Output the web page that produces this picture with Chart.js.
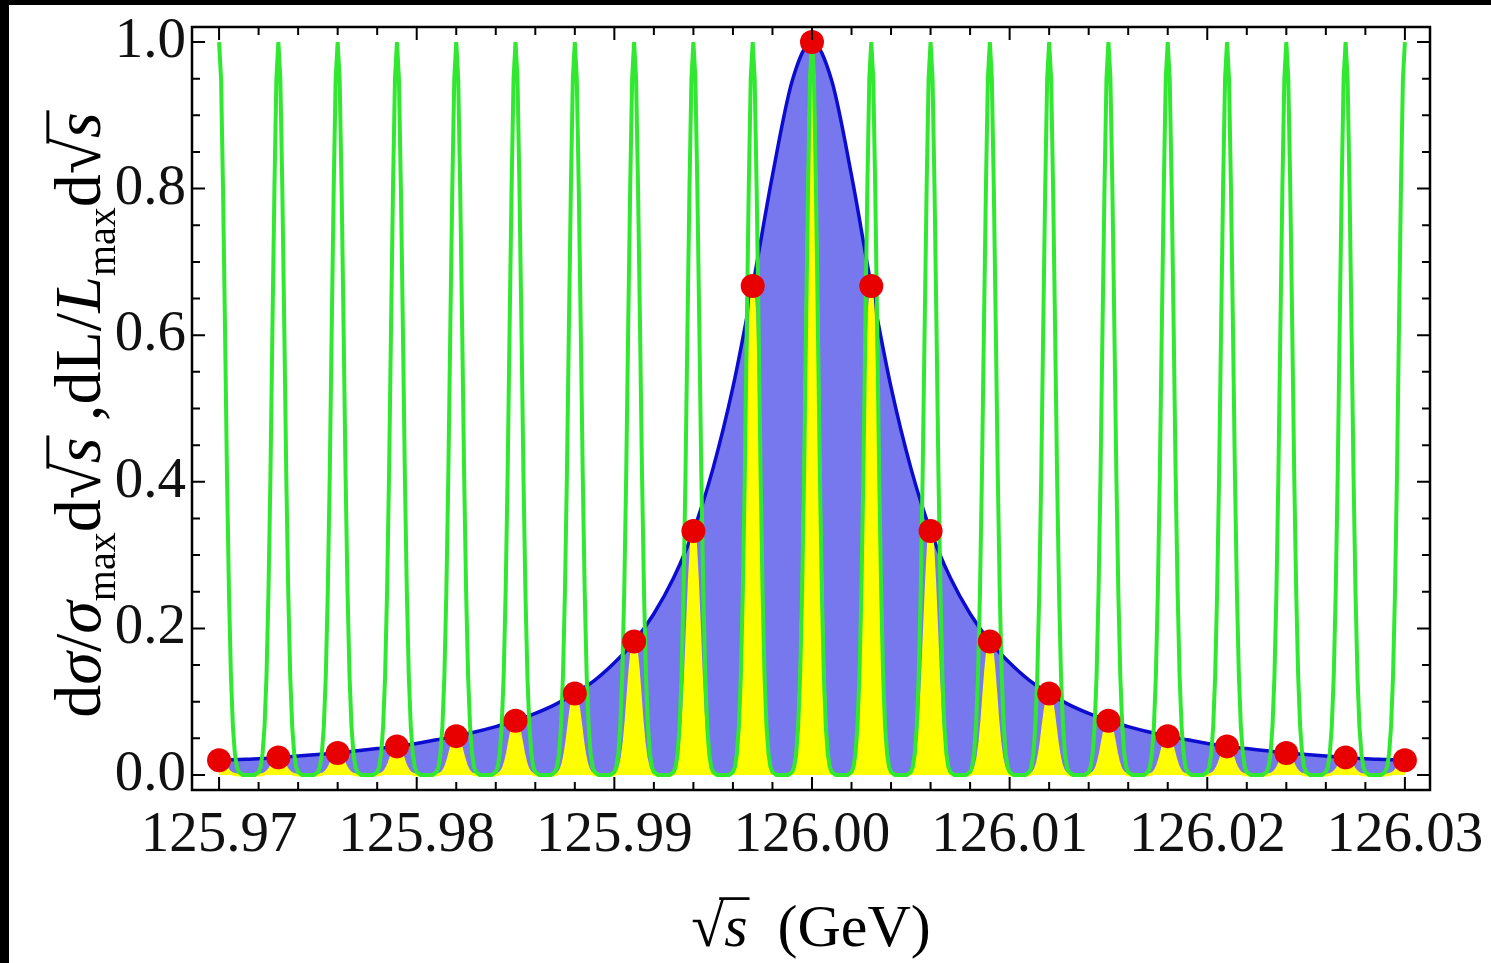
<!DOCTYPE html>
<html>
<head>
<meta charset="utf-8">
<script src="https://cdn.jsdelivr.net/npm/chart.js@4.4.1/dist/chart.umd.min.js"></script>
<style>
  html, body { margin: 0; padding: 0; background: #fff; }
  #wrap { width: 1491px; height: 963px; position: relative; }
</style>
</head>
<body>
<div id="wrap"><canvas id="chart"></canvas></div>
<script>
// Data
// Red dots: sqrt(s) sample points and normalised cross section there
const DOT_X = [125.970, 125.973, 125.976, 125.979, 125.982, 125.985, 125.988, 125.991, 125.994, 125.997,
               126.000, 126.003, 126.006, 126.009, 126.012, 126.015, 126.018, 126.021, 126.024, 126.027, 126.030];
const DOT_Y = [0.020, 0.024, 0.030, 0.039, 0.053, 0.074, 0.111, 0.182, 0.333, 0.667,
               1.000, 0.667, 0.333, 0.182, 0.111, 0.074, 0.053, 0.039, 0.030, 0.024, 0.020];

// Blue Breit-Wigner curve, sampled every 0.001 GeV from 125.970 to 126.030
const BLUE_START = 125.970;
const BLUE_STEP = 0.001;
const BLUE_Y = [0.020, 0.021, 0.022, 0.024, 0.026, 0.028, 0.030, 0.033, 0.036, 0.039,
                0.043, 0.048, 0.053, 0.059, 0.066, 0.074, 0.084, 0.096, 0.111, 0.129,
                0.153, 0.182, 0.220, 0.269, 0.333, 0.419, 0.529, 0.667, 0.818, 0.947,
                1.000,
                0.947, 0.818, 0.667, 0.529, 0.419, 0.333, 0.269, 0.220, 0.182, 0.153,
                0.129, 0.111, 0.096, 0.084, 0.074, 0.066, 0.059, 0.053, 0.048, 0.043,
                0.039, 0.036, 0.033, 0.030, 0.028, 0.026, 0.024, 0.022, 0.021, 0.020];

// Shape of one green luminosity spike (offset from its centre in GeV -> height)
const SPIKE_DX = [0, 0.0001, 0.0002, 0.0003, 0.0004, 0.0005, 0.0006, 0.0007, 0.0008, 0.0009, 0.0010, 0.0012];
const SPIKE_Y  = [1.0, 0.95, 0.80, 0.61, 0.41, 0.25, 0.135, 0.066, 0.029, 0.011, 0.004, 0.0];

const X_TICKS = [125.97, 125.98, 125.99, 126.00, 126.01, 126.02, 126.03];
const Y_TICKS = [0.0, 0.2, 0.4, 0.6, 0.8, 1.0];

const FONT = '"Liberation Serif", "Times New Roman", serif';
const GREEN = '#30e830';
const YELLOW = '#ffff00';
const BLUE_FILL = '#7878ee';
const BLUE_LINE = '#0c0cd0';
const RED = '#e80000';

// build the spike tables (green = luminosity, yellow = luminosity x cross section)
function spikePoints(scale) {
    const pts = [];
    DOT_X.forEach((cx, i) => {
        const h = scale ? DOT_Y[i] : 1;
        for (let k = SPIKE_DX.length - 1; k > 0; k--) {
            if (i > 0) pts.push({ x: cx - SPIKE_DX[k], y: SPIKE_Y[k] * h });
        }
        pts.push({ x: cx, y: SPIKE_Y[0] * h });
        for (let k = 1; k < SPIKE_DX.length; k++) {
            if (i < DOT_X.length - 1) pts.push({ x: cx + SPIKE_DX[k], y: SPIKE_Y[k] * h });
        }
    });
    return pts;
}

const bluePts = BLUE_Y.map((y, i) => ({ x: BLUE_START + i * BLUE_STEP, y }));
const dotPts = DOT_X.map((x, i) => ({ x, y: DOT_Y[i] }));

// draws a row of text pieces, with subscripts and sqrt overbars
function drawRuns(ctx, runs, x0, base, size, measureOnly) {
    let x = x0;
    let barStart = null;
    runs.forEach(([t, kind]) => {
        let f = `${size}px ${FONT}`;
        let dy = 0;
        if (kind === 'i') f = `italic ${size}px ${FONT}`;
        if (kind === 'sub') { f = `${Math.round(size * 0.6)}px ${FONT}`; dy = size * 0.22; }
        ctx.font = f;
        const w = ctx.measureText(t).width;
        if (!measureOnly) ctx.fillText(t, x, base + dy);
        if (kind === 'sq') {
            barStart = x + w * 0.85;
        } else if (barStart !== null) {
            if (!measureOnly) {
                ctx.save();
                ctx.lineWidth = size * 0.045;
                ctx.beginPath();
                ctx.moveTo(barStart, base - size * 0.79);
                ctx.lineTo(x + w + 2, base - size * 0.79);
                ctx.stroke();
                ctx.restore();
            }
            barStart = null;
        }
        x += w;
    });
    return x - x0;
}

const Y_TITLE = [['d', 'r'], ['σ', 'i'], ['/', 'r'], ['σ', 'i'], ['max', 'sub'], ['d', 'r'], ['√', 'sq'], ['s', 'i'],
                 [' ,dL/', 'r'], ['L', 'i'], ['max', 'sub'], ['d', 'r'], ['√', 'sq'], ['s', 'i']];
const X_TITLE = [['√', 'sq'], ['s', 'i'], ['  (GeV)', 'r']];

// no extra room for overhanging tick labels, so the plot box keeps its place
function noPadding(s) {
    s.paddingTop = 0; s.paddingBottom = 0; s.paddingLeft = 0; s.paddingRight = 0;
}

const framePlugin = {
    id: 'frame',
    beforeDraw(chart) {
        const ctx = chart.ctx;
        ctx.save();
        ctx.fillStyle = '#fff';
        ctx.fillRect(0, 0, chart.width, chart.height);
        ctx.fillStyle = '#000';
        ctx.fillRect(0, 0, 9, chart.height);
        ctx.fillRect(0, 0, chart.width, 5);
        ctx.restore();
    },
    afterDraw(chart) {
        const { ctx, chartArea: a, scales } = chart;
        const xs = scales.x, ys = scales.y;
        ctx.save();
        ctx.strokeStyle = '#000';
        ctx.lineWidth = 2.5;
        ctx.strokeRect(a.left, a.top, a.right - a.left, a.bottom - a.top);

        ctx.lineWidth = 2;
        ctx.beginPath();
        // x ticks, major 0.01 and minor 0.002, on bottom and top
        for (let i = 0; i <= 30; i++) {
            const v = 125.97 + i * 0.002;
            const px = xs.getPixelForValue(v);
            const len = i % 5 === 0 ? 13 : 8;
            ctx.moveTo(px, a.bottom); ctx.lineTo(px, a.bottom - len);
            ctx.moveTo(px, a.top); ctx.lineTo(px, a.top + len);
        }
        // y ticks, major 0.2 and minor 0.05, on left and right
        for (let i = 0; i <= 20; i++) {
            const py = ys.getPixelForValue(i * 0.05);
            const len = i % 4 === 0 ? 13 : 8;
            ctx.moveTo(a.left, py); ctx.lineTo(a.left + len, py);
            ctx.moveTo(a.right, py); ctx.lineTo(a.right - len, py);
        }
        ctx.stroke();

        // axis titles
        ctx.fillStyle = '#000';
        ctx.strokeStyle = '#000';
        ctx.textBaseline = 'alphabetic';
        ctx.textAlign = 'left';
        const xs0 = 60;
        const xw = drawRuns(ctx, X_TITLE, 0, 0, xs0, true);
        drawRuns(ctx, X_TITLE, 811 - xw / 2, 946, xs0, false);

        let ys0 = 58;
        const yw0 = drawRuns(ctx, Y_TITLE, 0, 0, ys0, true);
        ys0 = Math.min(66, ys0 * 660 / yw0);
        const yw = drawRuns(ctx, Y_TITLE, 0, 0, ys0, true);
        ctx.translate(100, 415);
        ctx.rotate(-Math.PI / 2);
        drawRuns(ctx, Y_TITLE, -yw / 2, 0, ys0, false);
        ctx.restore();
    }
};

new Chart(document.getElementById('chart'), {
    type: 'line',
    data: {
        datasets: [
            {
                label: 'points',
                data: dotPts,
                showLine: false,
                pointRadius: 12,
                pointBackgroundColor: RED,
                pointBorderColor: RED,
                pointBorderWidth: 0,
                order: 0,
            },
            {
                label: 'luminosity',
                data: spikePoints(false),
                borderColor: GREEN,
                borderWidth: 4,
                pointRadius: 0,
                tension: 0,
                fill: false,
                order: 1,
            },
            {
                label: 'product',
                data: spikePoints(true),
                borderColor: YELLOW,
                backgroundColor: YELLOW,
                borderWidth: 3,
                pointRadius: 0,
                tension: 0,
                fill: 'origin',
                order: 2,
            },
            {
                label: 'cross section',
                data: bluePts,
                borderColor: BLUE_LINE,
                backgroundColor: BLUE_FILL,
                borderWidth: 3.5,
                pointRadius: 0,
                cubicInterpolationMode: 'monotone',
                fill: 'origin',
                order: 3,
            },
        ],
    },
    options: {
        responsive: true,
        maintainAspectRatio: false,
        animation: false,
        layout: { padding: { left: 0, top: 27, right: 61, bottom: 0 } },
        plugins: { legend: { display: false }, tooltip: { enabled: false } },
        scales: {
            x: {
                type: 'linear',
                min: 125.96863,
                max: 126.03127,
                grid: { display: false, drawTicks: false },
                border: { display: false },
                afterBuildTicks: s => { s.ticks = X_TICKS.map(v => ({ value: v })); },
                afterFit: s => { s.height = 173; noPadding(s); },
                ticks: {
                    autoSkip: false,
                    maxRotation: 0,
                    padding: 12,
                    color: '#111',
                    font: { family: FONT, size: 57 },
                    callback: v => Number(v).toFixed(2),
                },
            },
            y: {
                type: 'linear',
                min: -0.0205,
                max: 1.0205,
                grid: { display: false, drawTicks: false },
                border: { display: false },
                afterBuildTicks: s => { s.ticks = Y_TICKS.map(v => ({ value: v })); },
                afterFit: s => { s.width = 192; noPadding(s); },
                ticks: {
                    padding: 6,
                    color: '#111',
                    font: { family: FONT, size: 57 },
                    callback: v => Number(v).toFixed(1),
                },
            },
        },
    },
    plugins: [framePlugin],
});
</script>
</body>
</html>
